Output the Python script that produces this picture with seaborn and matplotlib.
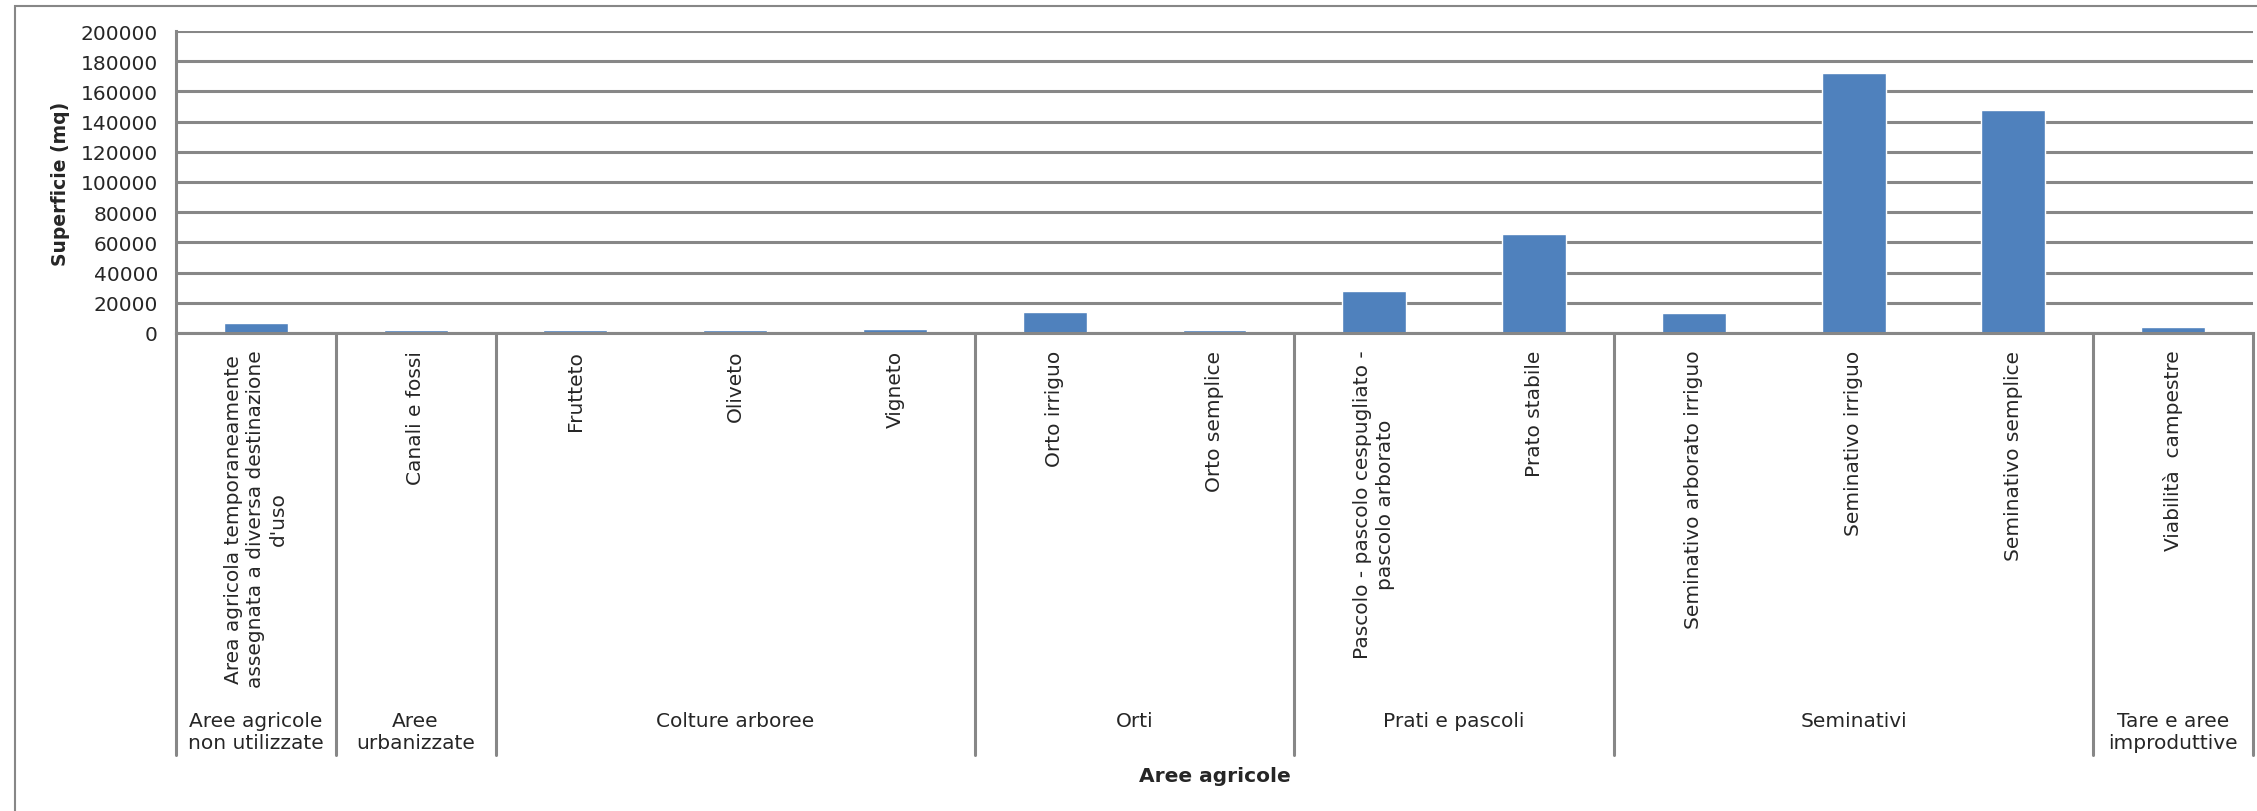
import matplotlib
matplotlib.use("Agg")
import matplotlib.pyplot as plt
import pandas as pd
import seaborn as sns
from matplotlib.lines import Line2D
from matplotlib.patches import Rectangle

# ---- data -------------------------------------------------------------
categorie = [
    "Area agricola temporaneamente\nassegnata a diversa destinazione\nd'uso",
    "Canali e fossi",
    "Frutteto",
    "Oliveto",
    "Vigneto",
    "Orto irriguo",
    "Orto semplice",
    "Pascolo - pascolo cespugliato -\npascolo arborato",
    "Prato stabile",
    "Seminativo arborato irriguo",
    "Seminativo irriguo",
    "Seminativo semplice",
    "Viabilità  campestre",
]
superficie = [6500, 1800, 1800, 1800, 2700, 14000, 1800, 27500, 65500,
              13000, 172000, 148000, 3800]
gruppi = [
    "Aree agricole\nnon utilizzate",
    "Aree\nurbanizzate",
    "Colture arboree", "Colture arboree", "Colture arboree",
    "Orti", "Orti",
    "Prati e pascoli", "Prati e pascoli",
    "Seminativi", "Seminativi", "Seminativi",
    "Tare e aree\nimproduttive",
]
y_ticks = list(range(0, 200001, 20000))
titolo_y = "Superficie (mq)"
titolo_x = "Aree agricole"

df = pd.DataFrame({"categoria": categorie, "superficie": superficie, "gruppo": gruppi})

# ---- style ------------------------------------------------------------
sns.set_style("white")
plt.rcParams["font.family"] = ["DejaVu Sans"]
GRID = "#878787"
BAR = "#4F81BD"
FS = 14.5

W, H = 2257, 812
fig = plt.figure(figsize=(W / 100, H / 100), dpi=100)
ax_l, ax_r, ax_t, ax_b = 176, 2253, 32, 334
ax = fig.add_axes([ax_l / W, 1 - ax_b / H, (ax_r - ax_l) / W, (ax_b - ax_t) / H])

sns.barplot(data=df, x="categoria", y="superficie", order=categorie,
            color=BAR, saturation=1, width=0.40, ax=ax, zorder=1.5)

ax.set_xlim(-0.5, len(categorie) - 0.5)
ax.set_ylim(y_ticks[0], y_ticks[-1])
ax.set_yticks(y_ticks)
ax.set_yticklabels([str(v) for v in y_ticks])
ax.yaxis.grid(True, color=GRID, linewidth=2.2, zorder=0)
ax.set_axisbelow(True)

for side in ("top", "right"):
    ax.spines[side].set_visible(False)
for side in ("left", "bottom"):
    ax.spines[side].set_color(GRID)
    ax.spines[side].set_linewidth(2.2)
    ax.spines[side].set_zorder(2.5)

ax.tick_params(axis="y", length=5, width=1.6, color=GRID, pad=8,
               labelsize=FS, direction="out")
ax.tick_params(axis="x", length=0, pad=12)
ax.set_xticks(range(len(categorie)))
ax.set_xticklabels(categorie, rotation=90, ha="center", va="top",
                   multialignment="center", fontsize=FS, linespacing=1.25)
ax.set_xlabel("")
ax.set_ylabel("")

# axis titles
fig.text(60 / W, 1 - 184 / H, titolo_y, rotation=90, ha="center", va="center",
         fontsize=13.5, fontweight="bold")
fig.text((ax_l + ax_r) / 2 / W, 1 - 777 / H, titolo_x, ha="center", va="center",
         fontsize=FS, fontweight="bold")

# group separators and group labels under the category labels
ax_h = ax_b - ax_t
y_sep = -(756 - ax_b) / ax_h
y_lab = -(712 - ax_b) / ax_h
trans = ax.get_xaxis_transform()
bordi = [-0.5]
for i in range(1, len(gruppi)):
    if gruppi[i] != gruppi[i - 1]:
        bordi.append(i - 0.5)
bordi.append(len(gruppi) - 0.5)
for b in bordi:
    ax.add_line(Line2D([b, b], [0, y_sep], transform=trans, color=GRID,
                       linewidth=2.2, clip_on=False))
for lo, hi in zip(bordi[:-1], bordi[1:]):
    nome = gruppi[int(lo + 0.5)]
    ax.text((lo + hi) / 2, y_lab, nome, transform=trans, ha="center", va="top",
            fontsize=FS, linespacing=1.2, multialignment="center")

# chart-area frame
fig.add_artist(Rectangle((15 / W, -0.1), 1.5, 1.1 - 7 / H, transform=fig.transFigure,
                         fill=False, edgecolor=GRID, linewidth=1.5, clip_on=False))

fig.savefig("out.png", dpi=100)
